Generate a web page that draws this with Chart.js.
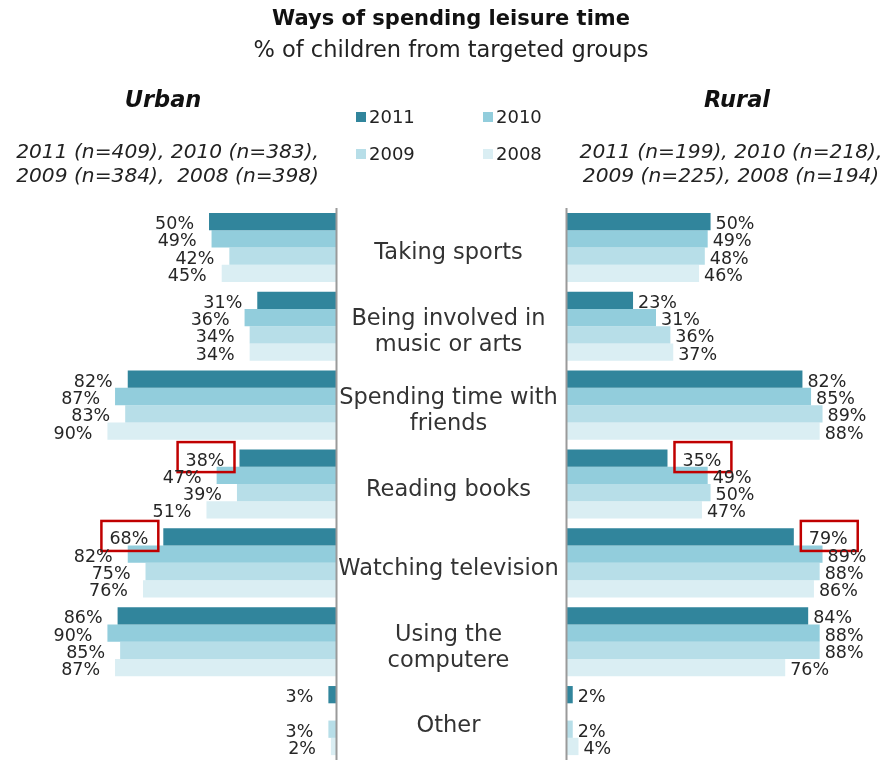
<!DOCTYPE html>
<html>
<head>
<meta charset="utf-8">
<title>Ways of spending leisure time</title>
<script src="https://cdn.jsdelivr.net/npm/chart.js@4/dist/chart.umd.min.js"></script>
<style>
  html, body { margin: 0; padding: 0; background: #fff; overflow: hidden; }
  body { width: 888px; height: 760px; position: relative; font-family: "DejaVu Sans", Verdana, sans-serif; color: #262626; }
  canvas { position: absolute; left: 0; top: 0; }
  .txt { position: absolute; white-space: nowrap; }
  #title { left: 0; width: 902px; top: 6px; text-align: center; font-weight: bold; font-size: 21px; color: #111; }
  #subtitle { left: 0; width: 902px; top: 36px; text-align: center; font-size: 22.5px; color: #222; }
  .panel { font-weight: bold; font-style: italic; font-size: 22.5px; color: #111; top: 86px; width: 200px; text-align: center; }
  #urban { left: 63px; }
  #rural { left: 637px; }
  .notes { font-style: italic; font-size: 20.2px; line-height: 24px; top: 139px; color: #222; }
  #notesUrban { left: 0; width: 319px; text-align: right; }
  #notesRural { left: 578px; width: 306px; text-align: center; }
  .leg { font-size: 18px; color: #222; }
  .leg span { display: inline-block; width: 10px; height: 10px; margin-right: 3px; vertical-align: 1px; }
</style>
</head>
<body>
<canvas id="graficoUrbano" width="888" height="760"></canvas>
<canvas id="graficoRural" width="888" height="760"></canvas>

<div class="txt" id="title">Ways of spending leisure time</div>
<div class="txt" id="subtitle">% of children from targeted groups</div>
<div class="txt panel" id="urban">Urban</div>
<div class="txt panel" id="rural">Rural</div>
<div class="txt notes" id="notesUrban">2011 (n=409), 2010 (n=383),<br>2009 (n=384),&nbsp; 2008 (n=398)</div>
<div class="txt notes" id="notesRural">2011 (n=199), 2010 (n=218),<br>2009 (n=225), 2008 (n=194)</div>
<div id="legenda"></div>

<script>
// Categorias (linhas quebradas como no original)
const categorias = [
  'Taking sports',
  ['Being involved in', 'music or arts'],
  ['Spending time with', 'friends'],
  'Reading books',
  'Watching television',
  ['Using the', 'computere'],
  'Other'
];

const anos = ['2011', '2010', '2009', '2008'];
const cores = ['#31859C', '#92CDDC', '#B7DEE8', '#DAEEF3'];

// Urbano (% de crianças)
const urbano2011 = [50, 31, 82, 38, 68, 86, 3];
const urbano2010 = [49, 36, 87, 47, 82, 90, null];
const urbano2009 = [42, 34, 83, 39, 75, 85, 3];
const urbano2008 = [45, 34, 90, 51, 76, 87, 2];

// Rural (% de crianças)
const rural2011 = [50, 23, 82, 35, 79, 84, 2];
const rural2010 = [49, 31, 85, 49, 89, 88, null];
const rural2009 = [48, 36, 89, 50, 88, 88, 2];
const rural2008 = [46, 37, 88, 47, 86, 76, 4];

// Categorias destacadas com caixa vermelha (série 2011)
const destaquesUrbano = [3, 4];
const destaquesRural = [3, 4];

// Monta a legenda em HTML
function montarLegenda() {
  const pos = [[356, 106], [483, 106], [356, 143], [483, 143]];
  const legenda = document.getElementById('legenda');
  anos.forEach((ano, i) => {
    const d = document.createElement('div');
    d.className = 'txt leg';
    d.style.left = pos[i][0] + 'px';
    d.style.top = pos[i][1] + 'px';
    d.innerHTML = `<span style="background:${cores[i]}"></span>${ano}`;
    legenda.appendChild(d);
  });
}

function criarDatasets(series) {
  return series.map((valores, i) => ({
    label: anos[i],
    data: valores,
    backgroundColor: cores[i],
    borderWidth: 0,
    barPercentage: 1,
    categoryPercentage: 0.876
  }));
}

// Plugin: rótulos de valor, caixas vermelhas e linha do eixo
function pluginRotulos(lado, destaques) {
  return {
    id: 'rotulos-' + lado,
    afterDatasetsDraw(chart) {
      const ctx = chart.ctx;
      const area = chart.chartArea;
      ctx.save();

      // linha vertical do eixo
      const xEixo = lado === 'esq' ? area.right + 0.5 : area.left - 0.5;
      ctx.strokeStyle = '#9a9a9a';
      ctx.lineWidth = 2;
      ctx.beginPath();
      ctx.moveTo(xEixo, area.top);
      ctx.lineTo(xEixo, area.bottom);
      ctx.stroke();

      ctx.font = '17.5px "DejaVu Sans", Verdana, sans-serif';
      ctx.textBaseline = 'middle';
      chart.data.datasets.forEach((ds, di) => {
        const meta = chart.getDatasetMeta(di);
        meta.data.forEach((bar, i) => {
          const v = ds.data[i];
          if (v === null || v === undefined) return;
          const texto = v + '%';
          const w = ctx.measureText(texto).width;
          const destacado = di === 0 && destaques.includes(i);
          const y = bar.y + 3;
          let xTexto;
          if (lado === 'esq') {
            xTexto = bar.x - 15 - w;
          } else {
            const gap = destacado ? 15 : 5;
            xTexto = bar.x + gap;
          }
          ctx.fillStyle = '#262626';
          ctx.textAlign = 'left';
          ctx.fillText(texto, xTexto, y);
          if (destacado) {
            ctx.strokeStyle = '#C00000';
            ctx.lineWidth = 2.5;
            ctx.strokeRect(xTexto - 8, y - 19, w + 18, 30);
          }
        });
      });
      ctx.restore();
    }
  };
}

// Plugin: nomes das categorias no centro
const pluginCategorias = {
  id: 'categorias',
  afterDraw(chart) {
    const ctx = chart.ctx;
    const escalaY = chart.scales.y;
    const xCentro = (chart.chartArea.right + 561) / 2;
    ctx.save();
    ctx.font = '22.5px "DejaVu Sans", Verdana, sans-serif';
    ctx.fillStyle = '#333';
    ctx.textAlign = 'center';
    ctx.textBaseline = 'middle';
    chart.data.labels.forEach((rotulo, i) => {
      const linhas = Array.isArray(rotulo) ? rotulo : [rotulo];
      const yc = escalaY.getPixelForValue(i) + 6;
      const y0 = yc - (linhas.length - 1) * 13;
      linhas.forEach((l, k) => ctx.fillText(l, xCentro, y0 + k * 26));
    });
    ctx.restore();
  }
};

function gerarGrafico(ctx, series, lado, destaques) {
  const esquerda = lado === 'esq';
  return new Chart(ctx, {
    type: 'bar',
    data: { labels: categorias, datasets: criarDatasets(series) },
    options: {
      indexAxis: 'y',
      responsive: false,
      animation: false,
      devicePixelRatio: 1,
      layout: {
        padding: esquerda
          ? { top: 208, right: 552, left: 0, bottom: 0 }
          : { top: 208, right: 0, left: 567, bottom: 0 }
      },
      scales: {
        x: { display: false, min: 0, max: esquerda ? 132.3 : 111.8, reverse: esquerda },
        y: { display: false }
      },
      plugins: { legend: { display: false }, tooltip: { enabled: false } }
    },
    plugins: esquerda
      ? [pluginRotulos(lado, destaques), pluginCategorias]
      : [pluginRotulos(lado, destaques)]
  });
}

montarLegenda();
gerarGrafico(document.getElementById('graficoUrbano').getContext('2d'),
  [urbano2011, urbano2010, urbano2009, urbano2008], 'esq', destaquesUrbano);
gerarGrafico(document.getElementById('graficoRural').getContext('2d'),
  [rural2011, rural2010, rural2009, rural2008], 'dir', destaquesRural);
</script>
</body>
</html>
